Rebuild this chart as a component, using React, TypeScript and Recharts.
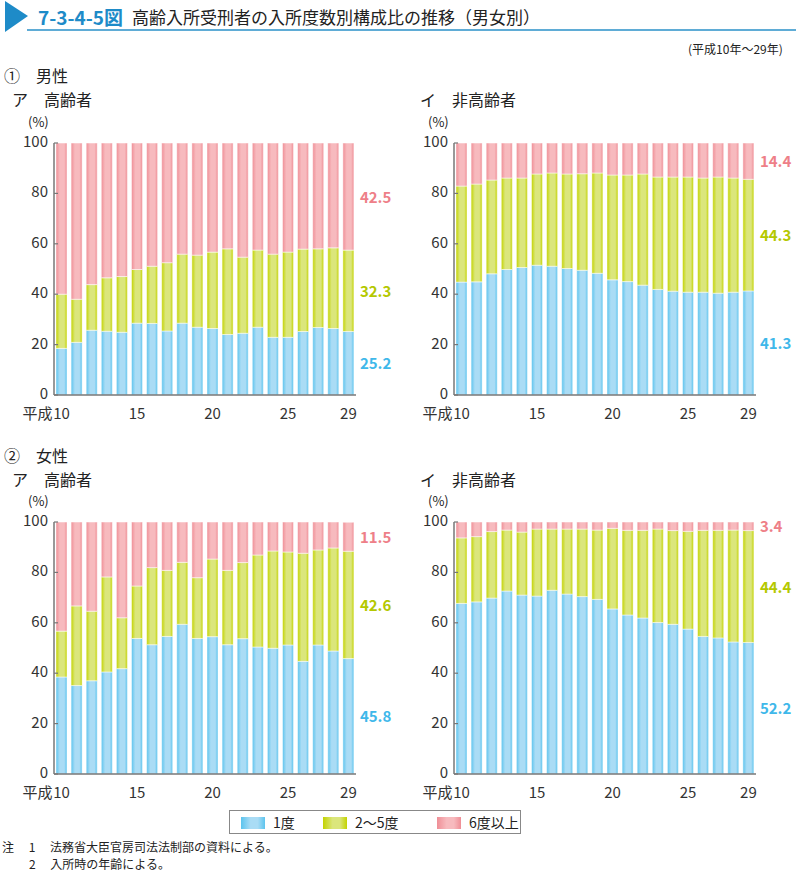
import React from 'react';
import { BarChart, Bar, XAxis, YAxis, LabelList } from 'recharts';

const years = ['10', '11', '12', '13', '14', '15', '16', '17', '18', '19', '20', '21', '22', '23', '24', '25', '26', '27', '28', '29'];
const xTicks = ['10', '15', '20', '25', '29'];
const yTicks = [0, 20, 40, 60, 80, 100];

const maleOldOnce = [18.5, 20.9, 25.7, 25.3, 24.9, 28.5, 28.4, 25.4, 28.5, 26.9, 26.4, 24.0, 24.5, 26.9, 22.9, 22.9, 25.2, 26.8, 26.4, 25.2];
const maleOldMid = [21.5, 17.1, 18.1, 21.2, 22.1, 21.3, 22.7, 27.1, 27.4, 28.6, 30.3, 34.0, 30.2, 30.6, 33.0, 33.8, 32.7, 31.2, 32.0, 32.3];
const maleOldMany = [60.0, 62.0, 56.2, 53.5, 53.0, 50.2, 48.9, 47.5, 44.1, 44.5, 43.3, 42.0, 45.3, 42.5, 44.1, 43.3, 42.1, 42.0, 41.6, 42.5];

const maleYoungOnce = [44.8, 44.9, 48.1, 49.8, 50.6, 51.5, 51.1, 50.2, 49.5, 48.3, 45.7, 45.0, 43.6, 41.9, 41.2, 40.8, 40.8, 40.4, 40.8, 41.3];
const maleYoungMid = [38.1, 38.8, 37.2, 36.3, 35.5, 36.2, 37.0, 37.5, 38.3, 39.8, 41.6, 42.3, 44.1, 44.6, 45.3, 45.7, 45.3, 46.1, 45.3, 44.3];
const maleYoungMany = [17.1, 16.3, 14.7, 13.9, 13.9, 12.3, 11.9, 12.3, 12.2, 11.9, 12.7, 12.7, 12.3, 13.5, 13.5, 13.5, 13.9, 13.5, 13.9, 14.4];

const femaleOldOnce = [38.5, 35.1, 37.0, 40.5, 41.8, 53.8, 51.3, 54.6, 59.4, 53.8, 54.5, 51.3, 53.7, 50.4, 49.9, 51.2, 44.7, 51.2, 48.8, 45.8];
const femaleOldMid = [18.2, 31.6, 27.6, 37.7, 20.2, 20.8, 30.6, 26.2, 24.6, 24.1, 30.8, 29.5, 30.2, 36.5, 38.6, 36.9, 42.9, 37.7, 40.9, 42.6];
const femaleOldMany = [43.3, 33.3, 35.4, 21.8, 38.0, 25.4, 18.1, 19.2, 16.0, 22.1, 14.7, 19.2, 16.1, 13.1, 11.5, 11.9, 12.4, 11.1, 10.3, 11.5];

const femaleYoungOnce = [67.7, 68.3, 69.8, 72.6, 71.0, 70.6, 72.9, 71.4, 70.4, 69.3, 65.5, 63.1, 61.9, 60.1, 59.4, 57.5, 54.6, 54.0, 52.4, 52.2];
const femaleYoungMid = [26.0, 25.9, 26.4, 24.2, 25.0, 26.6, 24.3, 25.8, 26.8, 27.5, 32.0, 33.6, 34.8, 37.1, 37.2, 38.8, 42.1, 42.7, 44.4, 44.4];
const femaleYoungMany = [6.3, 5.8, 3.8, 3.2, 4.0, 2.8, 2.8, 2.8, 2.8, 3.2, 2.5, 3.3, 3.3, 2.8, 3.4, 3.7, 3.3, 3.3, 3.2, 3.4];

const FONT = '"Noto Sans CJK JP", "Noto Sans", sans-serif';
const BLUE = '#3fb8ea';
const GREEN = '#b4c800';
const PINK = '#ee7f88';

const build = (a: number[], b: number[], c: number[]) =>
  years.map((y, i) => ({ year: y, once: a[i], mid: b[i], many: c[i] }));

const XTick = (props: any) => {
  const { x, y, payload } = props;
  const v = payload.value;
  return (
    <g>
      <text x={x} y={y + 16} textAnchor="middle" fontSize={15} fill="#333" fontFamily={FONT}>{v}</text>
      {v === '10' && (
        <text x={x - 9} y={y + 16} textAnchor="end" fontSize={15} fill="#333" fontFamily={FONT}>平成</text>
      )}
    </g>
  );
};

const YTick = (props: any) => {
  const { x, y, payload } = props;
  return (
    <g>
      <line x1={x + 6} x2={x + 10} y1={y} y2={y} stroke="#777" strokeWidth={1.2} />
      <text x={x} y={y + 4} textAnchor="end" fontSize={15} fill="#333" fontFamily={FONT}>{payload.value}</text>
    </g>
  );
};

const lastLabel = (color: string) => (props: any) => {
  const { x, y, width, height, index, value } = props;
  if (index !== years.length - 1) return null;
  return (
    <text x={x + width + 6} y={y + height / 2 + 6} fontSize={15} fontWeight={600} fill={color} fontFamily={FONT}>
      {Number(value).toFixed(1)}
    </text>
  );
};

const Grad = ({ id, edge, mid }: { id: string; edge: string; mid: string }) => (
  <linearGradient id={id} x1="0" y1="0" x2="1" y2="0">
    <stop offset="0" stopColor={edge} />
    <stop offset="0.35" stopColor={mid} />
    <stop offset="0.75" stopColor={mid} />
    <stop offset="1" stopColor={edge} />
  </linearGradient>
);

const Panel = ({ id, data }: { id: string; data: any[] }) => (
  <BarChart width={400} height={307} data={data} margin={{ top: 23, right: 44, bottom: 0, left: 20 }} barSize={11}>
    <defs>
      <Grad id={id + 'b'} edge="#5cc4ee" mid="#aadcf5" />
      <Grad id={id + 'g'} edge="#c3d300" mid="#dbe67c" />
      <Grad id={id + 'p'} edge="#ef8e96" mid="#f7babe" />
    </defs>
    <XAxis dataKey="year" ticks={xTicks} interval={0} tick={<XTick />} tickLine={false} axisLine={{ stroke: '#777', strokeWidth: 1.5 }} height={32} />
    <YAxis domain={[0, 100]} ticks={yTicks} tick={<YTick />} tickLine={false} tickSize={0} tickMargin={6} axisLine={{ stroke: '#777', strokeWidth: 1.5 }} width={34} />
    <Bar dataKey="once" stackId="s" fill={`url(#${id}b)`} stroke="#fff" strokeWidth={0.5} isAnimationActive={false}>
      <LabelList dataKey="once" content={lastLabel(BLUE)} />
    </Bar>
    <Bar dataKey="mid" stackId="s" fill={`url(#${id}g)`} stroke="#fff" strokeWidth={0.5} isAnimationActive={false}>
      <LabelList dataKey="mid" content={lastLabel(GREEN)} />
    </Bar>
    <Bar dataKey="many" stackId="s" fill={`url(#${id}p)`} stroke="#fff" strokeWidth={0.5} isAnimationActive={false}>
      <LabelList dataKey="many" content={lastLabel(PINK)} />
    </Bar>
  </BarChart>
);

const abs = (left: number, top: number): React.CSSProperties => ({ position: 'absolute', left, top });
const pct: React.CSSProperties = { fontSize: 13, lineHeight: '13px' };
const head: React.CSSProperties = { fontSize: 16, lineHeight: '18px' };

const Sw = ({ edge, mid }: { edge: string; mid: string }) => (
  <span style={{ display: 'inline-block', width: 24, height: 12, background: `linear-gradient(90deg, ${edge}, ${mid} 40%, ${mid} 70%, ${edge})`, marginRight: 8, verticalAlign: -1 }} />
);

export default function App() {
  return (
    <div style={{ position: 'absolute', left: 0, top: 0, width: 796, height: 871, background: '#fff', fontFamily: FONT, color: '#222', overflow: 'hidden' }}>
      <svg width={796} height={36} style={abs(0, 0)}>
        <polygon points="5,1 28,16 5,32" fill="#1e8bc8" />
        <line x1={27} x2={796} y1={30} y2={30} stroke="#2a90c9" strokeWidth={1.5} />
      </svg>
      <div style={{ ...abs(38, 3), fontSize: 19, fontWeight: 700, color: '#1e8bc8' }}>7-3-4-5図</div>
      <div style={{ ...abs(132, 4), fontSize: 17 }}>高齢入所受刑者の入所度数別構成比の推移（男女別）</div>
      <div style={{ ...abs(688, 40), fontSize: 12 }}>(平成10年～29年)</div>

      <div style={{ ...abs(4, 66), ...head }}>①　男性</div>
      <div style={{ ...abs(12, 90), ...head }}>ア　高齢者</div>
      <div style={{ ...abs(420, 90), ...head }}>イ　非高齢者</div>
      <div style={{ ...abs(28, 115), ...pct }}>(%)</div>
      <div style={{ ...abs(428, 115), ...pct }}>(%)</div>

      <div style={{ ...abs(4, 446), ...head }}>②　女性</div>
      <div style={{ ...abs(12, 470), ...head }}>ア　高齢者</div>
      <div style={{ ...abs(420, 470), ...head }}>イ　非高齢者</div>
      <div style={{ ...abs(28, 494), ...pct }}>(%)</div>
      <div style={{ ...abs(428, 494), ...pct }}>(%)</div>

      <div style={abs(0, 120)}><Panel id="m1" data={build(maleOldOnce, maleOldMid, maleOldMany)} /></div>
      <div style={abs(400, 120)}><Panel id="m2" data={build(maleYoungOnce, maleYoungMid, maleYoungMany)} /></div>
      <div style={abs(0, 499)}><Panel id="f1" data={build(femaleOldOnce, femaleOldMid, femaleOldMany)} /></div>
      <div style={abs(400, 499)}><Panel id="f2" data={build(femaleYoungOnce, femaleYoungMid, femaleYoungMany)} /></div>

      <div style={{ ...abs(229, 810), width: 290, height: 22, border: '1px solid #888', fontSize: 14, display: 'flex', alignItems: 'center' }}>
        <span style={{ marginLeft: 11, width: 82 }}><Sw edge="#5cc4ee" mid="#aadcf5" />1度</span>
        <span style={{ marginLeft: 0, width: 114 }}><Sw edge="#c3d300" mid="#dbe67c" />2～5度</span>
        <span><Sw edge="#ef8e96" mid="#f7babe" />6度以上</span>
      </div>

      <div style={{ ...abs(2, 838), fontSize: 12 }}>注　 1　 法務省大臣官房司法法制部の資料による。</div>
      <div style={{ ...abs(29, 855), fontSize: 12 }}>2　 入所時の年齢による。</div>
    </div>
  );
}
